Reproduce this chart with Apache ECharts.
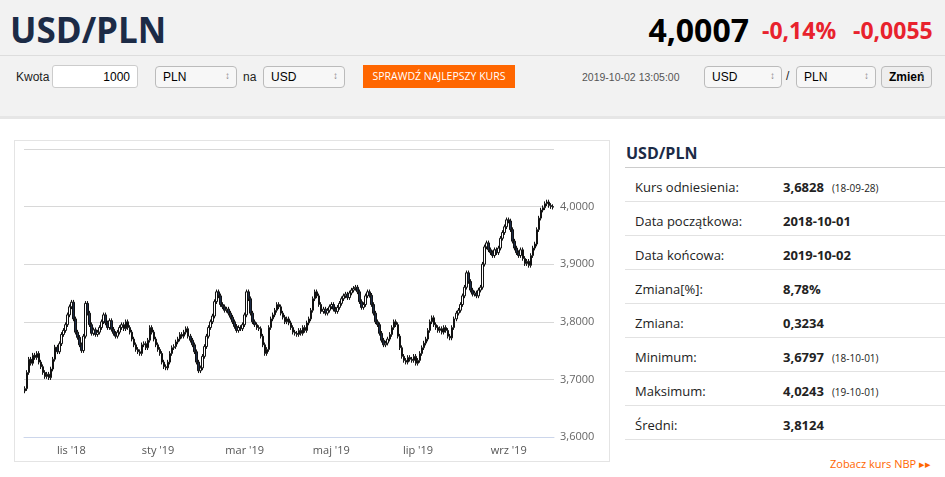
<!DOCTYPE html>
<html lang="pl">
<head>
<meta charset="UTF-8" />
<title>USD/PLN</title>
<style>
* { box-sizing: border-box; margin: 0; padding: 0; }
body { width: 945px; height: 477px; background: #f2f2f2; font-family: "Open Sans", Arial, sans-serif; position: relative; overflow: hidden; }
.abs { position: absolute; white-space: nowrap; }
.title { left: 10px; top: 6px; font-size: 35px; font-weight: bold; color: #1c2b46; }
.price { right: 196px; top: 8px; font-size: 32px; font-weight: bold; color: #000; }
.chg { top: 14px; font-size: 23px; font-weight: bold; color: #e8222d; }
.bar { left: 0; top: 55px; width: 945px; border-top: 1px solid #ddd; }
.ctl { font-family: Arial, sans-serif; font-size: 12px; color: #222; }
.inp { background: #fff; border: 1px solid #ccc; border-radius: 3px; height: 23px; font-family: Arial, sans-serif; font-size: 12px; padding: 4px 7px; }
.sel { background: #f7f7f7; border: 1px solid #bbb; border-radius: 4px; height: 22px; font-family: Arial, sans-serif; font-size: 12px; padding: 3px 7px; }
.sel:after { content: "\2195"; position: absolute; right: 6px; top: 3px; color: #888; font-size: 10px; }
.btn { left: 363px; top: 65px; width: 152px; height: 23px; background: #f60; color: #fff; font-size: 10.5px; line-height: 23px; text-align: center; }
.panel { left: 0; top: 116px; width: 945px; height: 361px; background: #fff; border-top: 3px solid #e6e6e6; }
#chart { left: 14px; top: 140px; width: 596px; height: 322px; border: 1px solid #e4e4e4; }
.tbl { left: 625px; top: 140px; width: 320px; font-size: 13px; color: #222; }
.tbl .h { font-size: 16px; font-weight: bold; color: #1c2b46; height: 28px; border-bottom: 1px solid #ccc; padding-left: 1px; padding-top: 2px; }
.row { height: 34px; border-bottom: 1px solid #e2e2e2; position: relative; }
.row span { position: absolute; top: 10px; white-space: nowrap; }
.row .l { left: 10px; }
.row .v { left: 158px; font-weight: bold; }
.row .d { position: static !important; font-size: 10px; font-weight: normal; margin-left: 8px; }
.nbp { right: 14px; top: 456px; font-size: 11px; color: #f60; }
</style>
</head>
<body>
<div class="abs title">USD/PLN</div>
<div class="abs price">4,0007</div>
<div class="abs chg" style="left:762px">-0,14%</div>
<div class="abs chg" style="left:853px">-0,0055</div>
<div class="abs bar"></div>
<div class="abs ctl" style="left:16px;top:70px">Kwota</div>
<div class="abs inp" style="left:52px;top:65px;width:86px;text-align:right">1000</div>
<div class="abs sel" style="left:155px;top:66px;width:82px">PLN</div>
<div class="abs ctl" style="left:243px;top:70px">na</div>
<div class="abs sel" style="left:263px;top:66px;width:82px">USD</div>
<div class="abs btn">SPRAWDŹ NAJLEPSZY KURS</div>
<div class="abs ctl" style="left:582px;top:71px;font-size:10.5px;color:#555">2019-10-02 13:05:00</div>
<div class="abs sel" style="left:704px;top:66px;width:78px">USD</div>
<div class="abs ctl" style="left:786px;top:69px">/</div>
<div class="abs sel" style="left:796px;top:66px;width:80px">PLN</div>
<div class="abs sel" style="left:881px;top:66px;width:51px;font-weight:bold;background:#eee">Zmień</div>
<div class="abs panel"></div>
<div class="abs" id="chart"></div>
<div class="abs tbl">
  <div class="h">USD/PLN</div>
  <div class="row"><span class="l">Kurs odniesienia:</span><span class="v">3,6828<span class="d">(18-09-28)</span></span></div>
  <div class="row"><span class="l">Data początkowa:</span><span class="v">2018-10-01</span></div>
  <div class="row"><span class="l">Data końcowa:</span><span class="v">2019-10-02</span></div>
  <div class="row"><span class="l">Zmiana[%]:</span><span class="v">8,78%</span></div>
  <div class="row"><span class="l">Zmiana:</span><span class="v">0,3234</span></div>
  <div class="row"><span class="l">Minimum:</span><span class="v">3,6797<span class="d">(18-10-01)</span></span></div>
  <div class="row"><span class="l">Maksimum:</span><span class="v">4,0243<span class="d">(19-10-01)</span></span></div>
  <div class="row"><span class="l">Średni:</span><span class="v">3,8124</span></div>
</div>
<div class="abs nbp">Zobacz kurs NBP ▸▸</div>

<script src="https://cdn.jsdelivr.net/npm/echarts@6/dist/echarts.min.js"></script>
<script>
// daily closes, one row per month (business days)
var closes = [].concat(
  [3.684,3.712,3.735,3.728,3.742,3.738,3.745,3.730,3.722,3.712,3.705,3.709,3.703,3.718,3.735,3.756,3.748,3.762,3.778,3.785,3.795,3.812,3.826],
  [3.834,3.805,3.782,3.773,3.760,3.750,3.775,3.832,3.815,3.795,3.780,3.786,3.778,3.782,3.790,3.800,3.812,3.798,3.790,3.802,3.787,3.780],
  [3.775,3.782,3.790,3.795,3.788,3.800,3.790,3.782,3.770,3.760,3.752,3.748,3.745,3.760,3.762,3.755,3.768,3.790,3.782,3.770,3.760],
  [3.752,3.745,3.730,3.722,3.720,3.730,3.745,3.755,3.757,3.765,3.770,3.778,3.775,3.782,3.788,3.775,3.768,3.760,3.748,3.730,3.715,3.720,3.740],
  [3.757,3.775,3.790,3.800,3.810,3.835,3.852,3.845,3.830,3.826,3.820,3.822,3.815,3.808,3.800,3.792,3.785,3.790,3.788,3.795],
  [3.812,3.852,3.840,3.815,3.800,3.795,3.790,3.788,3.775,3.760,3.745,3.752,3.790,3.805,3.812,3.820,3.830,3.826,3.815,3.808,3.800],
  [3.805,3.798,3.790,3.782,3.780,3.778,3.785,3.780,3.790,3.785,3.798,3.805,3.820,3.840,3.852,3.845,3.830,3.818,3.822,3.815,3.820,3.826],
  [3.830,3.822,3.818,3.825,3.832,3.840,3.845,3.848,3.842,3.850,3.855,3.858,3.860,3.852,3.835,3.825,3.830,3.845,3.852,3.846,3.830,3.815,3.800],
  [3.795,3.780,3.768,3.760,3.763,3.770,3.778,3.790,3.800,3.795,3.775,3.755,3.740,3.733,3.730,3.738,3.735,3.733,3.740,3.728],
  [3.733,3.745,3.755,3.763,3.770,3.785,3.800,3.807,3.795,3.790,3.785,3.788,3.782,3.790,3.785,3.775,3.772,3.790,3.805,3.815,3.820,3.830,3.845],
  [3.860,3.885,3.870,3.855,3.848,3.850,3.845,3.855,3.860,3.900,3.930,3.937,3.925,3.920,3.915,3.925,3.920,3.928,3.945,3.955,3.965,3.977],
  [3.975,3.960,3.940,3.928,3.920,3.915,3.925,3.910,3.901,3.905,3.898,3.915,3.928,3.935,3.960,3.980,3.994,3.998,4.005,4.008,4.002],
  [4.000,3.999]
)
var firstOpen = 3.680
var wick = 0.004
var monthNames = ['sty','lut','mar','kwi','maj','cze','lip','sie','wrz','paź','lis','gru']
var labelMonths = [10, 0, 2, 4, 6, 8] // lis, sty, mar, maj, lip, wrz

// business days from 2018-10-01
var dates = []
var d = new Date(2018, 9, 1)
while (dates.length < closes.length) {
  if (d.getDay() !== 0 && d.getDay() !== 6) dates.push(new Date(d))
  d.setDate(d.getDate() + 1)
}
var ohlc = closes.map(function (c, i) {
  var o = i === 0 ? firstOpen : closes[i - 1]
  return [o, c, Math.min(o, c) - wick, Math.max(o, c) + wick]
})
function isLabel(i) {
  var m = dates[i].getMonth()
  return i > 0 && dates[i - 1].getMonth() !== m && labelMonths.indexOf(m) >= 0
}
var chart = echarts.init(document.getElementById('chart'))
chart.setOption({
  animation: false,
  grid: { left: 9, right: 55, top: 8, bottom: 24 },
  xAxis: {
    type: 'category',
    data: dates.map(function (x) { return x.getTime() }),
    boundaryGap: true,
    axisLine: { lineStyle: { color: '#ccd6eb' } },
    axisTick: { interval: function (i) { return isLabel(i) }, alignWithLabel: true, lineStyle: { color: '#ccd6eb' }, length: 8 },
    axisLabel: {
      interval: function (i) { return isLabel(i) },
      color: '#555', fontSize: 11, fontFamily: 'Open Sans',
      formatter: function (v) { var x = new Date(+v); return monthNames[x.getMonth()] + " '" + String(x.getFullYear()).slice(2) }
    },
    splitLine: { show: false }
  },
  yAxis: {
    type: 'value', position: 'right', min: 3.6, max: 4.1, interval: 0.1,
    axisLine: { show: false }, axisTick: { show: false },
    axisLabel: {
      color: '#666', fontSize: 11, fontFamily: 'Open Sans', margin: 6,
      showMaxLabel: false,
      formatter: function (v) { return v.toFixed(4).replace('.', ',') }
    },
    splitLine: { lineStyle: { color: '#d8d8d8' } }
  },
  series: [{
    type: 'candlestick',
    data: ohlc,
    barWidth: 2,
    itemStyle: { color: '#ffffff', color0: '#1c2b46', borderColor: '#111', borderColor0: '#111', borderWidth: 1 }
  }]
})
</script>
</body>
</html>
